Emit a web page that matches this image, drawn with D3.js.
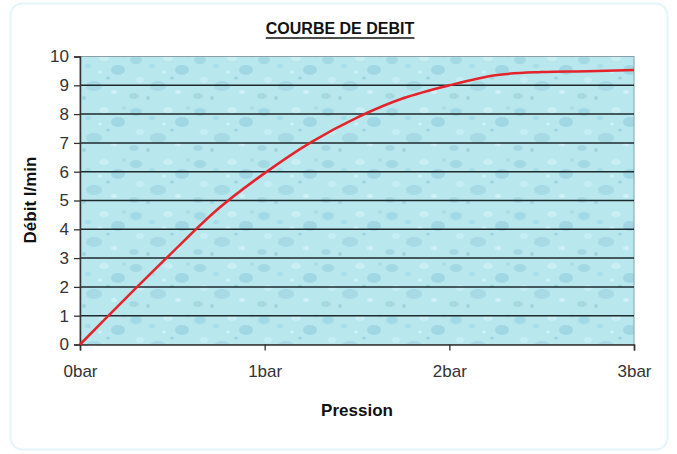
<!DOCTYPE html>
<html><head><meta charset="utf-8">
<script src="https://cdn.jsdelivr.net/npm/d3@7"></script>
<style>
html,body{margin:0;padding:0;background:#fff;}
text{font-family:"Liberation Sans",Arial,sans-serif;}
</style></head>
<body>
<svg id="c" width="677" height="454"></svg>
<script>
const pression = [0, 0.25, 0.5, 0.75, 1, 1.25, 1.5, 1.75, 2, 2.25, 2.5, 2.75, 3];
const debit    = [0, 1.62, 3.2, 4.72, 5.95, 7.02, 7.88, 8.55, 9.0, 9.35, 9.46, 9.49, 9.53];
const xTicks = [0, 1, 2, 3];
const xTickLabels = ["0bar", "1bar", "2bar", "3bar"];
const yTicks = [0,1,2,3,4,5,6,7,8,9,10];
const title = "COURBE DE DEBIT";
const xTitle = "Pression";
const yTitle = "Débit l/min";

const svg = d3.select("#c");
const m = {l:80, r:634, t:56.5, b:344.5};
const x = d3.scaleLinear().domain([0,3]).range([m.l, m.r]);
const y = d3.scaleLinear().domain([0,10]).range([m.b, m.t]);

// outer frame
svg.append("rect").attr("x",10.5).attr("y",3.5).attr("width",657).attr("height",446)
  .attr("rx",12).attr("fill","#fff").attr("stroke","#e3f5f9").attr("stroke-width",2);

// water-drop texture pattern
const defs = svg.append("defs");
const pat = defs.append("pattern").attr("id","drops").attr("patternUnits","userSpaceOnUse")
  .attr("width",64).attr("height",52);
pat.append("rect").attr("width",64).attr("height",52).attr("fill","#b8e7ee");
const drops = [
  [8,8,6,4,"#a3d9e4"],[24,14,3,2,"#a8dce6"],[40,6,5,3,"#c9eff5"],[54,18,7,5,"#a0d7e3"],
  [12,28,4,3,"#c6eef4"],[30,34,8,5,"#a6dae5"],[50,40,3,2,"#cdf1f6"],[6,44,5,3,"#a4d9e4"],
  [20,46,2,2,"#9fd6e2"],[44,26,2,1.5,"#9ed5e1"],[60,4,2,2,"#abdee7"],[36,20,2,1.5,"#d2f3f7"]
];
drops.forEach(d=>pat.append("ellipse").attr("cx",d[0]).attr("cy",d[1]).attr("rx",d[2]).attr("ry",d[3]).attr("fill",d[4]));

svg.append("rect").attr("x",m.l).attr("y",m.t).attr("width",m.r-m.l).attr("height",m.b-m.t)
  .attr("fill","url(#drops)").attr("stroke","#8a9fa6").attr("stroke-width",1);

// gridlines
svg.append("g").selectAll("line").data(yTicks.filter(v=>v>0 && v<10)).join("line")
  .attr("x1",m.l).attr("x2",m.r).attr("y1",d=>y(d)).attr("y2",d=>y(d))
  .attr("stroke","#1e2b2e").attr("stroke-width",1.5);

// y axis
const ya = svg.append("g").attr("transform",`translate(${m.l},0)`)
  .call(d3.axisLeft(y).tickValues(yTicks).tickSize(6).tickPadding(5));
ya.select(".domain").attr("stroke","#333").attr("stroke-width",1.5);
ya.selectAll(".tick line").attr("stroke","#333").attr("stroke-width",1.3);
ya.selectAll("text").attr("font-size",17).attr("fill","#333").attr("font-family","Liberation Sans, Arial, sans-serif");

// x axis
const xa = svg.append("g").attr("transform",`translate(0,${m.b})`)
  .call(d3.axisBottom(x).tickValues(xTicks).tickFormat((d,i)=>xTickLabels[i]).tickSize(6).tickPadding(14));
xa.select(".domain").attr("stroke","#333").attr("stroke-width",1.5);
xa.selectAll(".tick line").attr("stroke","#333").attr("stroke-width",1.3);
xa.selectAll("text").attr("font-size",17).attr("fill","#333").attr("font-family","Liberation Sans, Arial, sans-serif");

// curve
const line = d3.line().x((d,i)=>x(pression[i])).y(d=>y(d)).curve(d3.curveCatmullRom.alpha(0.5));
svg.append("path").datum(debit).attr("d",line).attr("fill","none")
  .attr("stroke","#e5232a").attr("stroke-width",2.5);

// titles
const t = svg.append("text").attr("x",340).attr("y",34).attr("text-anchor","middle")
  .attr("font-size",16).attr("font-weight","bold").attr("fill","#111").text(title);
const bb = t.node().getBBox();
svg.append("line").attr("x1",bb.x).attr("x2",bb.x+bb.width).attr("y1",38).attr("y2",38)
  .attr("stroke","#111").attr("stroke-width",1.5);

svg.append("text").attr("x",357).attr("y",416).attr("text-anchor","middle")
  .attr("font-size",17).attr("font-weight","bold").attr("fill","#111").text(xTitle);
svg.append("text").attr("transform","translate(36,200) rotate(-90)").attr("text-anchor","middle")
  .attr("font-size",17).attr("font-weight","bold").attr("fill","#111").text(yTitle);
</script>
</body></html>
